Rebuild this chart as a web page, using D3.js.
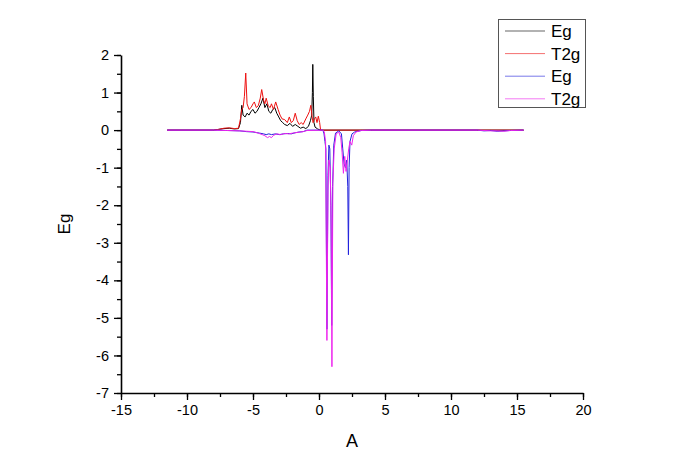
<!DOCTYPE html>
<html><head><meta charset="utf-8">
<script src="https://cdn.jsdelivr.net/npm/d3@7"></script>
<style>body{margin:0;background:#fff}svg{display:block}text{font-family:"Liberation Sans",Arial,sans-serif}</style>
</head><body><svg id="c" width="677" height="472"></svg>
<script>
const xTicks = [-15,-10,-5,0,5,10,15,20];
const yTicks = [2,1,0,-1,-2,-3,-4,-5,-6,-7];
const seriesNames = ["Eg","T2g","Eg","T2g"];
const seriesColors = ["#000000","#ee1111","#2222dd","#ee22ee"];
const xLabel = "A", yLabel = "Eg";

const egUp = [[-11.5,0],[-8,0],[-7.6,0.02],[-7.2,0.04],[-6.8,0.05],[-6.4,0.03],[-6.1,0.04],[-5.95,0.2],[-5.85,0.66],[-5.75,0.4],[-5.6,0.35],[-5.45,0.45],[-5.3,0.4],[-5.15,0.5],[-5.0,0.55],[-4.85,0.45],[-4.7,0.5],[-4.55,0.6],[-4.4,0.7],[-4.25,0.85],[-4.1,0.6],[-3.95,0.7],[-3.8,0.5],[-3.65,0.45],[-3.5,0.55],[-3.35,0.6],[-3.2,0.45],[-3.05,0.35],[-2.9,0.25],[-2.75,0.2],[-2.6,0.15],[-2.4,0.12],[-2.2,0.18],[-2.0,0.1],[-1.8,0.15],[-1.6,0.1],[-1.4,0.05],[-1.2,0.08],[-1.0,0.04],[-0.8,0.1],[-0.65,0.25],[-0.55,0.4],[-0.5,1.0],[-0.47,1.75],[-0.43,0.9],[-0.38,0.2],[-0.3,0.08],[-0.1,0.03],[0.1,0],[15.5,0]];
const t2gUp = [[-11.5,0],[-8,0],[-7.6,0.02],[-7.2,0.05],[-6.8,0.06],[-6.4,0.04],[-6.1,0.05],[-5.95,0.3],[-5.85,0.55],[-5.75,0.6],[-5.65,0.9],[-5.55,1.52],[-5.45,0.7],[-5.3,0.55],[-5.15,0.6],[-5.0,0.7],[-4.9,0.75],[-4.75,0.6],[-4.6,0.65],[-4.45,0.85],[-4.34,1.08],[-4.2,0.8],[-4.1,0.7],[-4.0,0.85],[-3.85,0.65],[-3.7,0.6],[-3.6,0.7],[-3.45,0.55],[-3.28,0.75],[-3.1,0.55],[-2.95,0.4],[-2.8,0.3],[-2.6,0.28],[-2.4,0.2],[-2.25,0.35],[-2.1,0.2],[-1.95,0.25],[-1.8,0.45],[-1.65,0.25],[-1.5,0.15],[-1.35,0.2],[-1.2,0.15],[-1.0,0.3],[-0.85,0.4],[-0.72,0.5],[-0.62,0.66],[-0.52,0.35],[-0.45,0.2],[-0.35,0.3],[-0.25,0.35],[-0.15,0.2],[-0.05,0.37],[0.05,0.2],[0.12,0],[15.5,0]];
const egDown = [[-11.5,0],[-8,0],[-7,-0.01],[-6,-0.02],[-5.5,-0.04],[-5,-0.05],[-4.5,-0.08],[-4.2,-0.1],[-4.0,-0.12],[-3.8,-0.1],[-3.6,-0.12],[-3.3,-0.1],[-3.0,-0.12],[-2.7,-0.1],[-2.4,-0.09],[-2.1,-0.1],[-1.8,-0.07],[-1.5,-0.05],[-1.2,-0.04],[-0.9,0],[0.3,0],[0.38,-0.1],[0.45,-0.3],[0.52,-0.5],[0.6,-5.3],[0.68,-1.2],[0.75,-0.4],[0.82,-0.5],[0.9,-2.0],[0.96,-5.2],[1.03,-1.5],[1.12,-0.4],[1.25,-0.08],[1.5,-0.02],[1.7,-0.1],[1.8,-0.5],[1.9,-0.9],[2.0,-1.0],[2.1,-0.8],[2.18,-1.5],[2.23,-3.32],[2.28,-1.0],[2.35,-0.3],[2.5,-0.1],[2.7,-0.05],[3.2,-0.01],[4,0],[12,0],[12.5,-0.02],[13,-0.01],[13.5,-0.03],[14,-0.02],[14.5,-0.01],[15.5,0]];
const t2gDown = [[-11.5,0],[-8,0],[-7,-0.01],[-6,-0.02],[-5,-0.04],[-4.6,-0.08],[-4.3,-0.12],[-4.1,-0.15],[-3.9,-0.2],[-3.75,-0.17],[-3.6,-0.2],[-3.45,-0.14],[-3.2,-0.1],[-2.9,-0.12],[-2.6,-0.09],[-2.3,-0.1],[-2,-0.08],[-1.6,-0.06],[-1.2,-0.04],[-0.9,-0.01],[0.3,0],[0.4,-0.05],[0.5,-0.3],[0.6,-5.6],[0.68,-1.6],[0.75,-0.8],[0.85,-1.0],[0.92,-2.5],[0.98,-6.3],[1.05,-1.4],[1.15,-0.5],[1.3,-0.1],[1.5,-0.05],[1.65,-0.2],[1.75,-0.6],[1.85,-1.15],[1.95,-0.7],[2.05,-1.1],[2.15,-0.8],[2.25,-0.5],[2.35,-0.3],[2.48,-0.4],[2.6,-0.15],[2.8,-0.05],[3.2,-0.01],[4,0],[12,0],[12.5,-0.01],[13,-0.02],[13.5,-0.02],[14,-0.03],[14.5,-0.01],[15.5,0]];
const series = [egUp, t2gUp, egDown, t2gDown];

const svg = d3.select("#c");
const x = d3.scaleLinear().domain([-15,20]).range([121,583]);
const y = d3.scaleLinear().domain([-7,2]).range([393,55]);
const fmt = d => String(d);

// minor ticks
svg.append("g").attr("transform","translate(0,393)")
  .call(d3.axisBottom(x).tickValues(d3.range(-15,20.01,2.5)).tickSize(4).tickFormat(""))
  .call(g=>g.select(".domain").remove()).selectAll("line").attr("stroke","#000").attr("stroke-width",1.3);
svg.append("g").attr("transform","translate(121,0)")
  .call(d3.axisLeft(y).tickValues(d3.range(-7,2.01,0.5)).tickSize(4).tickFormat(""))
  .call(g=>g.select(".domain").remove()).selectAll("line").attr("stroke","#000").attr("stroke-width",1.3);

const gx = svg.append("g").attr("transform","translate(0,393)")
  .call(d3.axisBottom(x).tickValues(xTicks).tickFormat(fmt).tickSize(7).tickSizeOuter(0).tickPadding(5));
const gy = svg.append("g").attr("transform","translate(121,0)")
  .call(d3.axisLeft(y).tickValues(yTicks).tickFormat(fmt).tickSize(7).tickSizeOuter(0).tickPadding(5));
[gx,gy].forEach(g=>{
  g.select(".domain").attr("stroke","#000").attr("stroke-width",1.6);
  g.selectAll("line").attr("stroke","#000").attr("stroke-width",1.3);
  g.selectAll("text").attr("font-size",14.5).attr("fill","#000").style("font-family","'Liberation Sans',Arial,sans-serif");
});

const line = d3.line().x(d=>x(d[0])).y(d=>y(d[1]));
series.forEach((s,i)=>{
  svg.append("path").datum(s).attr("d",line).attr("fill","none")
    .attr("stroke",seriesColors[i]).attr("stroke-width",1).attr("stroke-linejoin","round");
});

svg.append("text").attr("x",352).attr("y",447).attr("text-anchor","middle").attr("font-size",18).text(xLabel);
svg.append("text").attr("transform","translate(70,224) rotate(-90)").attr("text-anchor","middle").attr("font-size",17).text(yLabel);

const lg = svg.append("g");
lg.append("rect").attr("x",498.5).attr("y",19.5).attr("width",87).attr("height",88).attr("fill","#fff").attr("stroke","#555").attr("stroke-width",1);
seriesNames.forEach((n,i)=>{
  const yy = 31 + i*22.6;
  lg.append("line").attr("x1",505).attr("x2",545).attr("y1",yy).attr("y2",yy).attr("stroke",seriesColors[i]).attr("stroke-width",1).attr("opacity",0.6);
  lg.append("text").attr("x",551).attr("y",yy+6).attr("font-size",17).text(n);
});
</script></body></html>
